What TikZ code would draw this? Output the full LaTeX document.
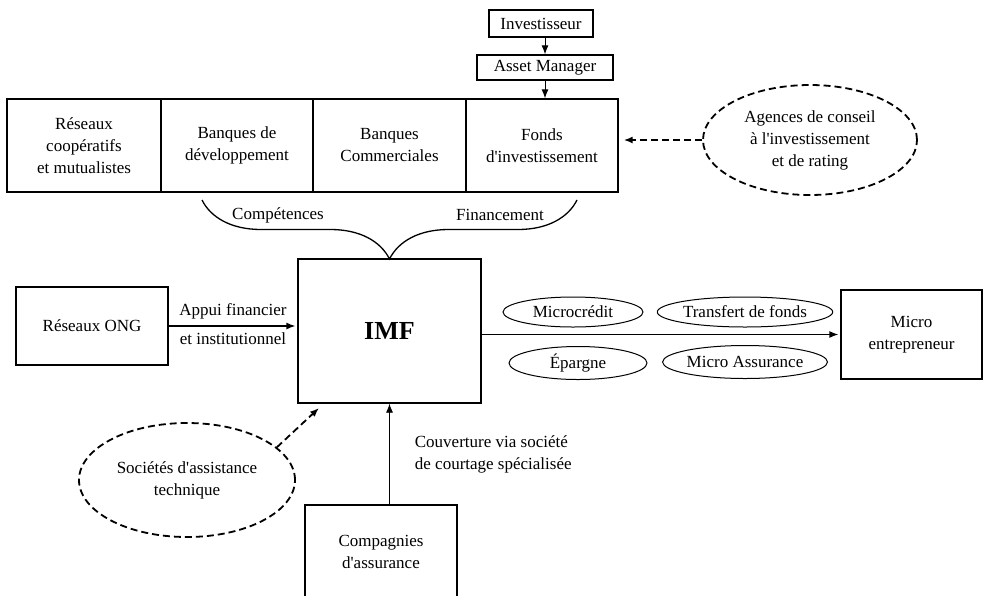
\documentclass[tikz,border=0pt]{standalone}
\usepackage{fontspec}
\setmainfont{Liberation Serif}
\usetikzlibrary{shapes,positioning,arrows,arrows.meta,decorations.pathreplacing}

\begin{document}
\begin{tikzpicture}[x=1pt, y=-1pt, >={Latex[length=9pt,width=7pt]},
	font=\fontsize{17}{22}\selectfont,
	box/.style={draw, line width=1.3pt, inner sep=2pt, align=center},
	oval/.style={draw, ellipse, line width=1pt, inner sep=0pt},
	dashoval/.style={draw, ellipse, line width=1.8pt, dash pattern=on 7pt off 4pt, inner sep=0pt, align=center},
	dashline/.style={line width=1.8pt, dash pattern=on 7pt off 4pt},
	lbl/.style={inner sep=0pt, align=left}]
	\useasboundingbox (0,0) rectangle (984,595);
	\clip (0,0) rectangle (984,595);

	% top: investor chain and funding row
	\node[box, minimum width=104pt, minimum height=27pt](Inv) at (541,23.5){Investisseur};
	\node[box, minimum width=136pt, minimum height=25pt](Asset) at (545,67.5){Asset Manager};
	\node[box, minimum width=154pt, minimum height=93pt](Res) at (84,145.5){Réseaux\\coopératifs\\et mutualistes};
	\node[box, minimum width=152pt, minimum height=93pt](BDev) at (237,145.5){Banques de\\développement};
	\node[box, minimum width=153pt, minimum height=93pt](BCom) at (389.5,145.5){Banques\\Commerciales};
	\node[box, minimum width=152pt, minimum height=93pt](Fonds) at (542,145.5){Fonds\\d\textquotesingle investissement};
	\node[dashoval, minimum width=214pt, minimum height=110pt](Agc) at (810,140){Agences de conseil\\à l\textquotesingle investissement\\et de rating};

	\draw[->, line width=1pt] (Inv.south -| Asset) -- (Asset.north);
	\draw[->, line width=1pt] (Asset.south) -- (Asset.south |- Fonds.north);
	\draw[dashline, ->, shorten >=5pt] (Agc.west) -- (Agc.west -| Fonds.east);

	% brace over the IMF
	\coordinate (BrL) at (202,200);
	\coordinate (BrR) at (577,200);
	\draw[line width=1.3pt, decorate, decoration={brace, amplitude=59pt}] (BrR) -- (BrL);
	\node[lbl](Comp) at (278,215){Compétences};
	\node[lbl](Fin) at (500,215){Financement};

	% middle row
	\node[box, minimum width=183pt, minimum height=144pt, font=\fontsize{26}{30}\selectfont\bfseries](IMF) at (389.5,331){IMF};
	\node[box, minimum width=152pt, minimum height=78pt](Ong) at (92,326){Réseaux ONG};
	\node[box, minimum width=141pt, minimum height=89pt](Micro) at (911.5,334.5){Micro\\entrepreneur};

	\draw[->, line width=1.3pt, shorten >=2pt] (Ong) -- (Ong -| IMF.west)
		node[midway, above=3pt]{Appui financier}
		node[midway, below=3pt]{et institutionnel};
	\draw[->, line width=1.3pt, shorten >=2pt] (IMF.east |- Micro.west) -- (Micro.west);

	\node[oval, minimum width=140pt, minimum height=30pt](Mcr) at (573,312){Microcrédit};
	\node[oval, minimum width=146pt, minimum height=30pt](Tdf) at (745,312){Transfert de fonds};
	\node[oval, minimum width=138pt, minimum height=33pt](Epg) at (578,363){Épargne};
	\node[oval, minimum width=145pt, minimum height=33pt](Mas) at (745,362){Micro Assurance};

	% bottom
	\node[dashoval, minimum width=216pt, minimum height=114pt](Soc) at (187,480){Sociétés d\textquotesingle assistance\\technique};
	\coordinate (ImfTip) at (319,408);
	\draw[dashline, ->] (Soc.20) -- (ImfTip);

	\node[box, minimum width=152pt, minimum height=94pt](Ass) at (381,552){Compagnies\\d\textquotesingle assurance};
	\draw[->, line width=0.8pt] (Ass.north -| IMF.south) -- (IMF.south)
		node[lbl, midway, anchor=west, xshift=25pt]{Couverture via société\\de courtage spécialisée};
\end{tikzpicture}
\end{document}
